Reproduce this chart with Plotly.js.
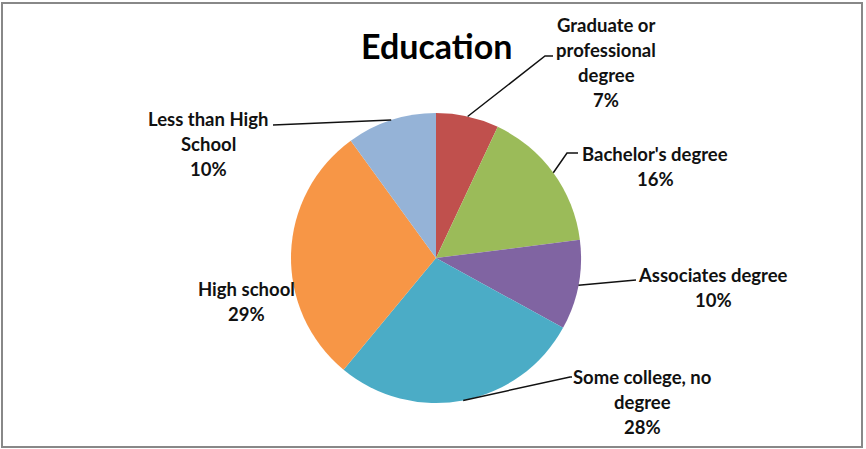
<!DOCTYPE html>
<html>
<head>
<meta charset="utf-8">
<script src="https://cdn.plot.ly/plotly-3.0.1.min.js"></script>
<style>html,body{margin:0;padding:0;background:#fff;}#chart{width:866px;height:449px;}</style>
</head>
<body>
<div id="chart"></div>
<script>
// ---- data ----
const categories = ["Graduate or professional degree", "Bachelor's degree", "Associates degree", "Some college, no degree", "High school", "Less than High School"];
const values = [7, 16, 10, 28, 29, 10];
const labelLines = [["Graduate or", "professional", "degree"], ["Bachelor's degree"], ["Associates degree"], ["Some college, no", "degree"], ["High school"], ["Less than High", "School"]];
const colors = ["#C0504D", "#9BBB59", "#8064A2", "#4BACC6", "#F79646", "#95B3D7"];

// ---- layout constants (pixels) ----
const W = 866, H = 449;
const cx = 436, cy = 258, R = 145;
// label placement: center x, first-line y; leader elbows
const labelPos = [
  {x: 606, y: 25, elbow: [[545, 56], [553, 56]]},
  {x: 655, y: 154, elbow: [[567, 153], [578, 153]]},
  {x: 713, y: 275, elbow: [[636, 280]]},
  {x: 642, y: 377, elbow: [[570, 377], [572, 377]]},
  {x: 246, y: 289, elbow: null},
  {x: 208, y: 119, elbow: [[273, 125]]}
];
const LINE = 25;

const px = x => x / W;
const py = y => 1 - y / H;

const total = values.reduce((a, b) => a + b, 0);
const font = {family: "Lato, 'Open Sans', sans-serif", size: 18.5, color: "#111", weight: "bold"};

const annotations = [];
const shapes = [];
let cum = 0;
values.forEach((v, i) => {
  const mid = (cum + v / 2) / total * 2 * Math.PI;
  cum += v;
  const ex = cx + R * Math.sin(mid), ey = cy - R * Math.cos(mid);
  const lines = labelLines[i].concat([Math.round(v / total * 100) + "%"]);
  const lp = labelPos[i];
  lines.forEach((t, k) => {
    annotations.push({text: t, x: px(lp.x), y: py(lp.y + k * LINE), xref: "paper", yref: "paper",
      xanchor: "center", yanchor: "middle", showarrow: false, font: font});
  });
  if (lp.elbow) {
    let d = "M " + px(ex) + " " + py(ey);
    lp.elbow.forEach(p => { d += " L " + px(p[0]) + " " + py(p[1]); });
    shapes.push({type: "path", path: d, xref: "paper", yref: "paper", line: {color: "#111", width: 1.5}});
  }
});
shapes.push({type: "rect", xref: "paper", yref: "paper", x0: px(2), x1: px(862), y0: py(447), y1: py(3),
  line: {color: "#888", width: 2}});
annotations.push({text: "Education", x: px(436), y: py(45), xref: "paper", yref: "paper", xanchor: "center",
  yanchor: "middle", showarrow: false, font: {family: "Lato, 'Open Sans', sans-serif", size: 34, color: "#000", weight: "bold"}});

const trace = {
  type: "pie", labels: categories, values: values, sort: false, direction: "clockwise", rotation: 0,
  marker: {colors: colors, line: {width: 0}}, textinfo: "none", hoverinfo: "skip",
  domain: {x: [px(cx - R), px(cx + R)], y: [py(cy + R), py(cy - R)]}
};

Plotly.newPlot("chart", [trace], {
  width: W, height: H, margin: {l: 0, r: 0, t: 0, b: 0}, showlegend: false,
  paper_bgcolor: "#fff", annotations: annotations, shapes: shapes
}, {displayModeBar: false, staticPlot: true});
</script>
</body>
</html>
